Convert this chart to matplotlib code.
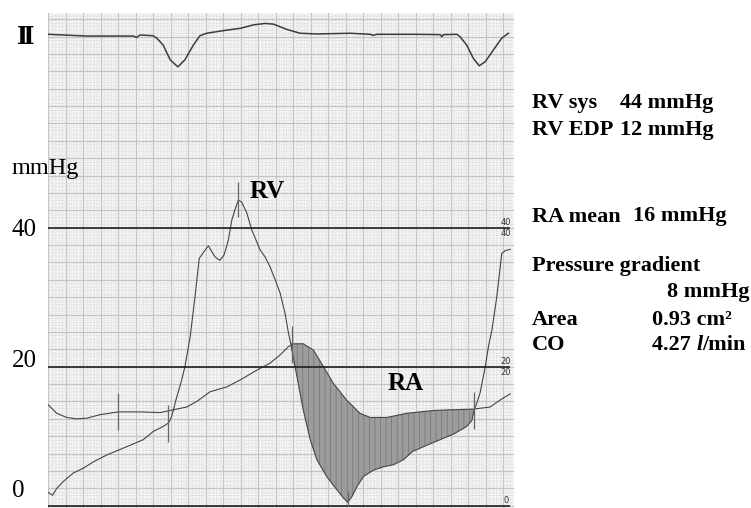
import matplotlib
matplotlib.use('Agg')
import matplotlib.pyplot as plt
import numpy as np

# RV pressure trace (time in ms, pressure in mmHg)
rv_t = [1, 13, 25, 44, 72, 101, 129, 168, 206, 244, 272, 301, 329, 344, 353,
        368, 382, 391, 406, 420, 432, 439, 449, 458, 465, 477, 491, 503, 515, 525,
        534, 544, 553, 568, 582, 596, 606, 620, 634, 649, 663, 677, 687, 693, 711,
        729, 749, 768, 796, 825, 844, 856, 868, 882, 901, 929, 958, 987, 1015, 1041,
        1082, 1120, 1158, 1196, 1211, 1217, 1223, 1234, 1249, 1258, 1268, 1282, 1296, 1306, 1320]
rv_p = [1.9, 1.5, 2.5, 3.5, 4.7, 5.4, 6.3, 7.3, 8.1, 8.9, 9.5, 10.7, 11.4, 11.9, 12.8,
        15.7, 18.1, 20.0, 24.3, 30.1, 35.6, 36.1, 36.8, 37.4, 36.8, 35.8, 35.3, 36.1, 38.2, 41.1,
        42.6, 44.0, 43.7, 42.1, 39.7, 38.0, 36.8, 35.8, 34.4, 32.5, 30.6, 27.7, 24.8, 23.4, 18.6,
        13.8, 9.5, 6.6, 4.2, 2.3, 1.1, 0.5, 1.3, 2.7, 4.2, 5.1, 5.6, 5.9, 6.6, 7.8,
        8.7, 9.5, 10.3, 11.4, 12.3, 13.8, 14.5, 16.2, 20.0, 22.9, 25.3, 30.1, 36.3, 36.7, 36.9]

# RA pressure trace
ra_t = [1, 25, 53, 82, 111, 149, 201, 263, 320, 358, 396, 425, 463, 511, 549,
        596, 634, 663, 687, 701, 729, 758, 787, 815, 853, 891, 920, 968, 1025, 1101,
        1149, 1215, 1263, 1291, 1320]
ra_p = [14.5, 13.3, 12.7, 12.5, 12.6, 13.1, 13.5, 13.5, 13.4, 13.8, 14.2, 15.0, 16.4, 17.1, 18.1,
        19.5, 20.5, 21.7, 22.9, 23.3, 23.3, 22.4, 20.0, 17.6, 15.2, 13.3, 12.7, 12.7, 13.3, 13.7,
        13.8, 13.9, 14.2, 15.2, 16.1]

# ECG lead II (mV)
ecg_t = [1, 111, 244, 253, 263, 300, 311, 329, 349, 371, 391, 415, 434, 453, 511,
         549, 587, 620, 644, 682, 720, 768, 863, 920, 929, 939, 1053, 1120, 1125, 1129,
         1168, 1177, 1196, 1215, 1232, 1249, 1272, 1296, 1315]
ecg_mv = [0.02, -0.03, -0.03, -0.07, 0.0, -0.02, -0.09, -0.29, -0.71, -0.91, -0.71, -0.29, -0.02, 0.05, 0.14,
          0.19, 0.29, 0.33, 0.31, 0.16, 0.05, 0.03, 0.05, 0.02, -0.01, 0.02, 0.02, 0.01, -0.05, 0.01,
          0.02, -0.05, -0.29, -0.67, -0.88, -0.76, -0.43, -0.09, 0.05]

# timing markers on the traces
mark_t = [201, 342, 544, 698, 857, 1217]
mark_lo = [10.9, 9.1, 41.6, 20.5, 0.0, 11.1]
mark_hi = [16.2, 14.5, 46.6, 25.8, 2.0, 16.4]

ref_levels = [0, 20, 40]
gradient_window = (693, 1218)

info_left = ['RV sys', 'RV EDP', 'RA mean', 'Pressure gradient', 'Area', 'CO']
info_right = ['44 mmHg', '12 mmHg', '16 mmHg', '8 mmHg', '0.93 cm\u00b2', '4.27 ']

W, H = 751, 508


def fx(x):
    return x / W


def fy(y):
    return 1 - y / H


SERIF = ['Liberation Serif', 'DejaVu Serif']
plt.rcParams['hatch.linewidth'] = 0.5

fig = plt.figure(figsize=(7.51, 5.08), dpi=100)
rect = [fx(48), 0, fx(514) - fx(48), 1 - 13 / H]
ax = fig.add_axes(rect)
ax.set_xlim(0, 1331)
ax.set_ylim(-0.33, 70.9)
ax.set_facecolor('#f2f2f2')
ax.set_xticks(np.arange(0, 1332, 50))
ax.set_xticks(np.arange(0, 1332, 10), minor=True)
ax.set_yticks(np.arange(0, 71, 2.5))
ax.set_yticks(np.arange(0, 71, 0.5), minor=True)
ax.grid(which='major', color='#c4c4c4', lw=0.9)
ax.grid(which='minor', color='#d2d2d2', lw=0.6, ls=(0, (1, 2)))
ax.tick_params(which='both', length=0, labelbottom=False, labelleft=False)
for s in ax.spines.values():
    s.set_visible(False)
ax.set_axisbelow(True)

# shaded area between RA and RV (diastolic gradient)
t0, t1 = gradient_window
ra_t_arr, ra_p_arr = np.array(ra_t), np.array(ra_p)
rv_t_arr, rv_p_arr = np.array(rv_t), np.array(rv_p)
m_ra = (ra_t_arr >= t0) & (ra_t_arr <= t1)
m_rv = (rv_t_arr >= t0) & (rv_t_arr <= t1)
poly_t = np.concatenate([ra_t_arr[m_ra], rv_t_arr[m_rv][::-1]])
poly_p = np.concatenate([ra_p_arr[m_ra], rv_p_arr[m_rv][::-1]])
ax.fill(poly_t, poly_p, facecolor='#9c9c9c', edgecolor='#747474', hatch='|||', lw=0, zorder=2)

ax.plot(rv_t, rv_p, color='#454545', lw=0.8, zorder=3)
ax.plot(ra_t, ra_p, color='#454545', lw=0.8, zorder=3)
ax.hlines(ref_levels, 0, 1320, color='#1e1e1e', lw=1.2, zorder=4)
ax.vlines(mark_t, mark_lo, mark_hi, color='#666666', lw=0.9, zorder=4)

# small scale labels at the right end of each reference line
for lvl in ref_levels:
    offsets = (4, -4.3) if lvl > 0 else (4,)
    for off in offsets:
        ax.annotate(str(lvl), (1308, lvl), xytext=(0, off), textcoords='offset points',
                    ha='center', va='center', fontsize=6, color='#333333')

# ECG on its own overlay axes
ax2 = fig.add_axes(rect)
ax2.set_xlim(0, 1331)
ax2.set_ylim(-(508 - 35) / 35, (35 - 13) / 35)
ax2.axis('off')
ax2.plot(ecg_t, ecg_mv, color='#3c3c3c', lw=1.1)

# left labels
fig.text(fx(25.5), fy(36.5), '\u2161', family=['DejaVu Serif'], fontweight='bold',
         fontsize=17, ha='center', va='center')
fig.text(fx(11.7), fy(173.5), 'mmHg', family=SERIF, fontsize=17.5, va='baseline')
fig.text(fx(11.7), fy(236), '40', family=SERIF, fontsize=18, va='baseline')
fig.text(fx(11.7), fy(366.7), '20', family=SERIF, fontsize=18, va='baseline')
fig.text(fx(11.7), fy(496.7), '0', family=SERIF, fontsize=18, va='baseline')

fig.text(fx(250), fy(198), 'RV', family=SERIF, fontweight='bold', fontsize=18, va='baseline')
fig.text(fx(388), fy(390.5), 'RA', family=SERIF, fontweight='bold', fontsize=18, va='baseline')

# measurement summary
left_y = [108, 135, 221.5, 271, 325, 350]
right_pos = [(620, 108), (620, 135), (633, 221.5), (667, 296.5), (652, 325), (652, 350)]
for label, yy in zip(info_left, left_y):
    fig.text(fx(531.7), fy(yy), label, family=SERIF, fontweight='bold', fontsize=16, va='baseline')
last = None
for val, (xx, yy) in zip(info_right, right_pos):
    last = fig.text(fx(xx), fy(yy), val, family=SERIF, fontweight='bold', fontsize=16, va='baseline')
# "l" of l/min is set in italics
l_ann = plt.annotate('l', xy=(1, 0), xycoords=last, ha='left', va='bottom',
                     family=SERIF, fontweight='bold', style='italic', fontsize=16)
plt.annotate('/min', xy=(1, 0), xycoords=l_ann, ha='left', va='bottom',
             family=SERIF, fontweight='bold', fontsize=16)

fig.savefig('out.png', dpi=100, facecolor='white')
